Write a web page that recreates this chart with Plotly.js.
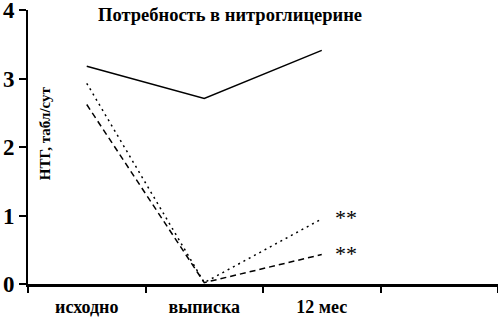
<!DOCTYPE html>
<html>
<head>
<meta charset="utf-8">
<script src="https://cdn.plot.ly/plotly-3.0.1.min.js"></script>
<style>html,body{margin:0;padding:0;background:#fff;}#chart{width:498px;height:317px;}</style>
</head>
<body>
<div id="chart"></div>
<script>
var categories = ["исходно", "выписка", "12 мес", " "];
var seriesSolid = [3.18, 2.71, 3.41];
var seriesDotted = [2.93, 0.02, 0.95];
var seriesDashed = [2.62, 0.02, 0.43];
var starLabels = ["**", "**"];
var yTicks = [0, 1, 2, 3, 4];

var font = "Liberation Serif, Times New Roman, serif";
var traces = [
  {x: categories.slice(0, 3), y: seriesSolid, mode: "lines", line: {color: "#000", width: 1.5, dash: "solid"}},
  {x: categories.slice(0, 3), y: seriesDotted, mode: "lines", line: {color: "#000", width: 1.5, dash: "2px,4px"}},
  {x: categories.slice(0, 3), y: seriesDashed, mode: "lines", line: {color: "#000", width: 1.5, dash: "6px,4px"}}
];
var layout = {
  width: 498, height: 317,
  margin: {l: 28, r: 0, t: 10, b: 33},
  paper_bgcolor: "#fff", plot_bgcolor: "#fff",
  showlegend: false,
  title: {text: "<b>Потребность в нитроглицерине</b>", font: {family: font, size: 18.5, color: "#000"},
    x: 0.462, xref: "container", xanchor: "center", y: 0.955, yref: "container", yanchor: "middle"},
  xaxis: {type: "category", categoryorder: "array", categoryarray: categories, tickvals: categories,
    range: [-0.5, 3.5], showgrid: false, zeroline: false, showline: true, linecolor: "#000", linewidth: 3,
    ticks: "outside", ticklen: 6, tickwidth: 2, tickcolor: "#000", tickson: "boundaries",
    tickfont: {family: font, size: 18, color: "#000"}, ticklabelstandoff: 4},
  yaxis: {range: [0, 4], tickvals: yTicks, showgrid: false, zeroline: false, showline: true, linecolor: "#000", linewidth: 2,
    ticks: "outside", ticklen: 7, tickwidth: 2, tickcolor: "#000", ticklabeloverflow: "allow",
    tickfont: {family: font, size: 23, color: "#000"}, ticklabelstandoff: 0},
  annotations: [
    {xref: "paper", yref: "paper", x: 0.036, y: 0.55, textangle: -90, text: "<b>НТГ, табл/сут</b>", showarrow: false,
      xanchor: "center", yanchor: "middle", font: {family: font, size: 15, color: "#000"}},
    {x: categories[2], y: seriesDotted[2], text: starLabels[0], showarrow: false, xanchor: "left", yanchor: "middle", xshift: 11, yshift: 1, font: {family: font, size: 22, color: "#000"}},
    {x: categories[2], y: seriesDashed[2], text: starLabels[1], showarrow: false, xanchor: "left", yanchor: "middle", xshift: 11, yshift: 1, font: {family: font, size: 22, color: "#000"}}
  ]
};
Plotly.newPlot("chart", traces, layout, {displayModeBar: false, staticPlot: true}).then(function(){
  document.querySelectorAll(".xtick text, .ytick text").forEach(function(t){ t.style.fontWeight = "bold"; });
});
</script>
</body>
</html>
